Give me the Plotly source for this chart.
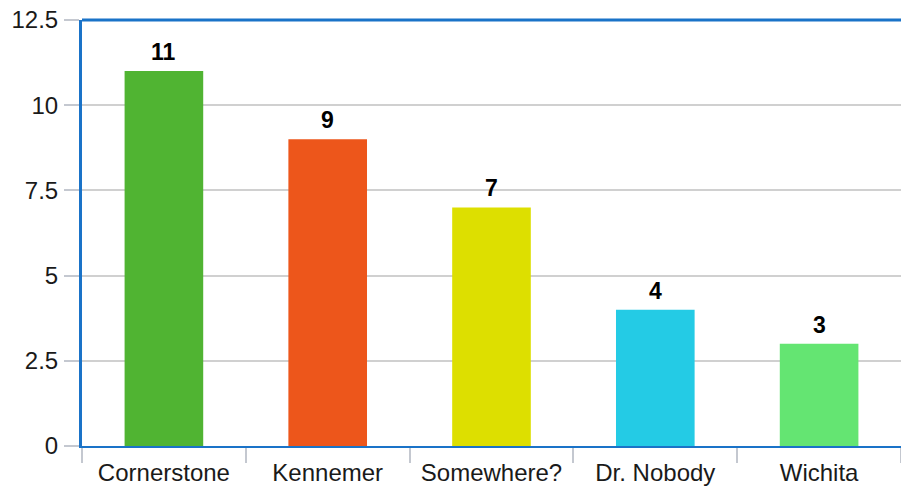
import plotly.graph_objects as go

categories = ["Cornerstone", "Kennemer", "Somewhere?", "Dr. Nobody", "Wichita"]
values = [11, 9, 7, 4, 3]
colors = ["#50B432", "#ED561B", "#DDDF00", "#24CBE5", "#64E572"]
ytick_vals = [0, 2.5, 5, 7.5, 10, 12.5]
ytick_text = ["0", "2.5", "5", "7.5", "10", "12.5"]

fig = go.Figure(go.Bar(
    x=categories, y=values,
    marker=dict(color=colors, line=dict(width=0)),
    cliponaxis=False,
))

for c, v in zip(categories, values):
    fig.add_annotation(x=c, y=v, text=str(v), showarrow=False, yanchor="bottom", yshift=4,
                       font=dict(family="Liberation Sans", size=23, color="#000000", weight="bold"))

fig.update_layout(
    width=901, height=486,
    margin=dict(l=82, r=0, t=20, b=40),
    paper_bgcolor="white", plot_bgcolor="white",
    bargap=0.52,
    showlegend=False,
    font=dict(family="Liberation Sans", size=24, color="#1a1a1a"),
    xaxis=dict(
        showline=True, linecolor="#1a73c8", linewidth=2, automargin=False,
        ticks="outside", tickson="boundaries", ticklen=15, tickcolor="#c4c8d0", tickwidth=2,
        ticklabelstandoff=4,
        showgrid=False, tickfont=dict(size=24),
    ),
    yaxis=dict(
        range=[0, 12.5], tickvals=ytick_vals, ticktext=ytick_text, automargin=False,
        showline=True, linecolor="#1a73c8", linewidth=3,
        ticks="outside", ticklen=15, tickcolor="#c4c8d0", tickwidth=2, ticklabelstandoff=1,
        showgrid=True, gridcolor="#d0d0d0", gridwidth=1.5,
        zeroline=False, tickfont=dict(size=24),
    ),
    shapes=[dict(type="line", xref="paper", yref="paper", x0=0, x1=1, y0=1, y1=1,
                 line=dict(color="#1a73c8", width=3))],
)

fig.write_html("out.html", config={"displayModeBar": False},
               post_script="document.body.style.margin='0';document.body.style.overflow='hidden';")
